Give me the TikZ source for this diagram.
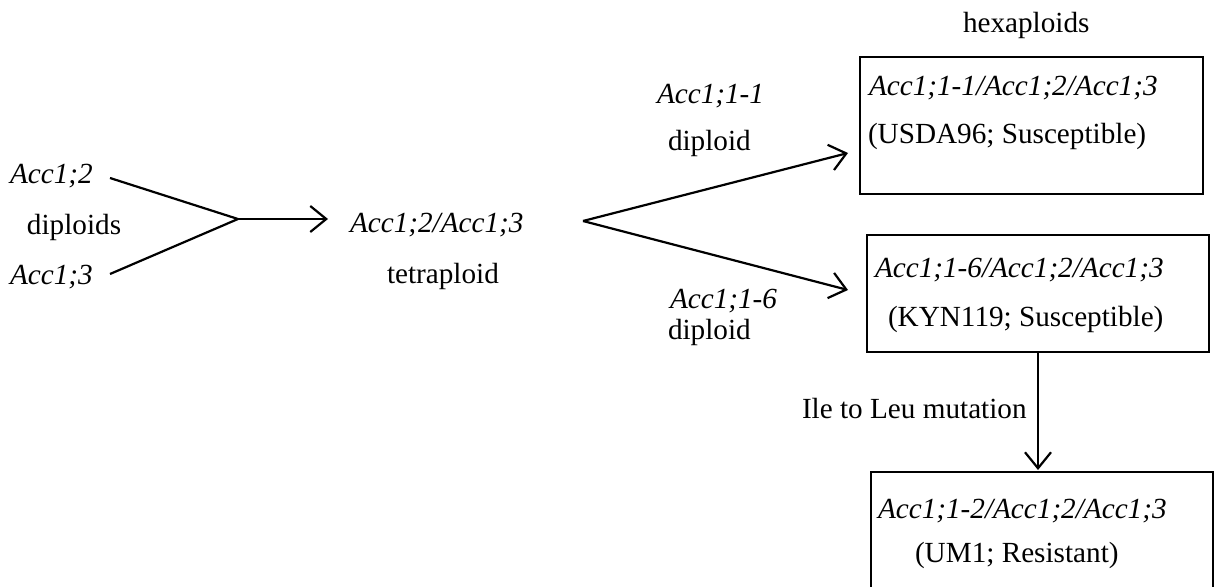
\documentclass[tikz,border=0pt]{standalone}
\usepackage{fontspec}
\setmainfont{Liberation Serif}
\usetikzlibrary{arrows.meta}
\begin{document}
\begin{tikzpicture}[x=1pt,y=-1pt,
  every node/.style={inner sep=0pt,outer sep=0pt,font=\fontsize{29.2}{35}\selectfont},
  lbl/.style={anchor=base west},
  gene/.style={anchor=base west,font=\fontsize{29.2}{35}\selectfont\itshape},
  box/.style={draw,line width=2.2pt,anchor=north west},
  link/.style={line width=2.2pt},
  arr/.style={line width=2.2pt,-{Straight Barb[length=16pt,width=26pt,line width=2.2pt]}}]
\useasboundingbox (0,0) rectangle (1214,586);
\clip (0,0) rectangle (1214,586);

% diploid parents
\node[gene] (a2) at (10,183) {Acc1;2};
\node[lbl]  (dip) at (27,234) {diploids};
\node[gene] (a3) at (10,284) {Acc1;3};

% tetraploid
\node[gene] (tet) at (350,232) {Acc1;2/Acc1;3};
\node[lbl]  (tetl) at (387,283) {tetraploid};

% added diploid genomes
\node[gene] (d11) at (657,103) {Acc1;1-1};
\node[lbl]  (d11l) at (668,150) {diploid};
\node[gene] (d16) at (670,308) {Acc1;1-6};
\node[lbl]  (d16l) at (668,339) {diploid};

% hexaploids
\node[lbl] (hex) at (963,33) {hexaploids};
\node[box,minimum width=343pt,minimum height=137pt] (box1) at (860,57) {};
\node[gene] (b1a) at (869,95) {Acc1;1-1/Acc1;2/Acc1;3};
\node[lbl]  (b1b) at (868,143) {(USDA96; Susceptible)};

\node[box,minimum width=342pt,minimum height=117pt] (box2) at (867,235) {};
\node[gene] (b2a) at (875,277) {Acc1;1-6/Acc1;2/Acc1;3};
\node[lbl]  (b2b) at (888,326) {(KYN119; Susceptible)};

\node[lbl] (mut) at (802,418) {Ile to Leu mutation};

\node[box,minimum width=342pt,minimum height=140pt] (box3) at (871,472) {};
\node[gene] (b3a) at (878,518) {Acc1;1-2/Acc1;2/Acc1;3};
\node[lbl]  (b3b) at (915,562) {(UM1; Resistant)};

% junction and end points
\coordinate (s2) at (110,178);
\coordinate (s3) at (110,274);
\coordinate (j1) at (238,219);
\coordinate (e1) at (328,219);
\coordinate (j2) at (583,221);
\coordinate (t1) at (848,153);
\coordinate (t2) at (848,290);

\draw[link] (s2) -- (j1) -- (s3);
\draw[arr] (j1) -- (e1);
\draw[arr] (j2) -- (t1);
\draw[arr] (j2) -- (t2);
\draw[arr,shorten >=2pt] (box2.south) -- (box2.south |- box3.north);
\end{tikzpicture}
\end{document}
